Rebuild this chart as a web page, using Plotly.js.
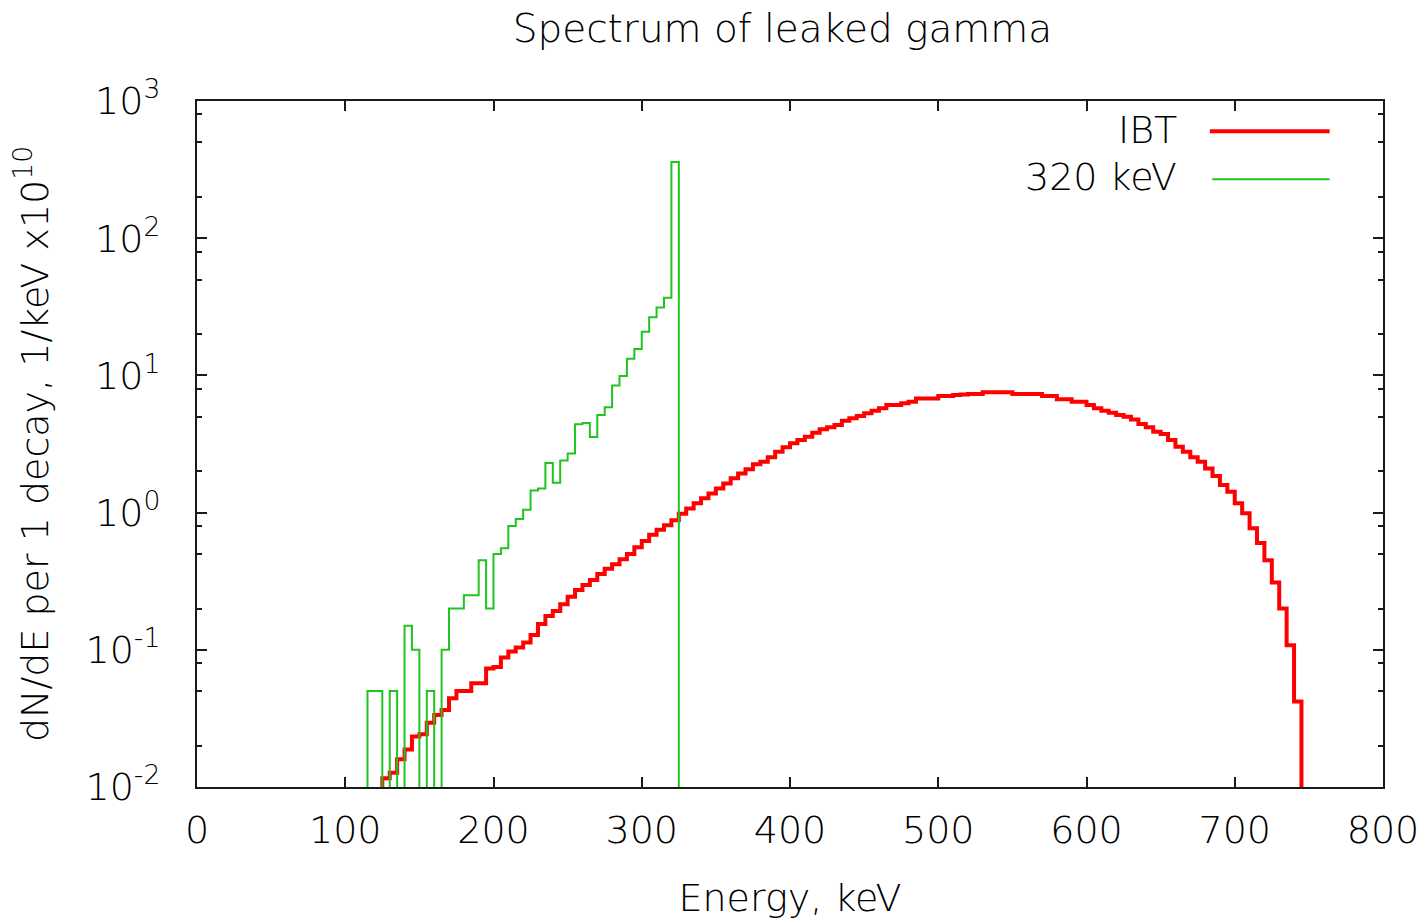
<!DOCTYPE html>
<html>
<head>
<meta charset="utf-8">
<script src="https://cdn.plot.ly/plotly-3.0.1.min.js"></script>
<style>
  html, body { margin: 0; padding: 0; background: #ffffff; }
  #chart { width: 1426px; height: 920px; }
</style>
</head>
<body>
<div id="chart"></div>
<script>
// ---- data (5 keV bins, left edges) ----
const binWidth = 5;

const ibtEdges = [
  125,130,135,140,145,150,155,160,165,170,175,180,185,190,195,200,205,210,215,220,
  225,230,235,240,245,250,255,260,265,270,275,280,285,290,295,300,305,310,315,320,
  325,330,335,340,345,350,355,360,365,370,375,380,385,390,395,400,405,410,415,420,
  425,430,435,440,445,450,455,460,465,470,475,480,485,490,495,500,505,510,515,520,
  525,530,535,540,545,550,555,560,565,570,575,580,585,590,595,600,605,610,615,620,
  625,630,635,640,645,650,655,660,665,670,675,680,685,690,695,700,705,710,715,720,
  725,730,735,740
];
const ibtValues = [
  0.0116,0.0127,0.0159,0.0188,0.0233,0.0242,0.0294,0.0335,0.0364,0.0443,0.050,0.050,0.057,0.057,0.073,0.075,0.088,0.097,0.104,0.113,
  0.128,0.154,0.176,0.192,0.215,0.244,0.273,0.297,0.323,0.357,0.39,0.42,0.457,0.50,0.56,0.62,0.69,0.75,0.81,0.88,
  0.98,1.07,1.17,1.27,1.38,1.50,1.63,1.78,1.93,2.07,2.25,2.35,2.53,2.78,2.99,3.2,3.38,3.57,3.82,4.05,
  4.19,4.35,4.68,4.87,5.06,5.29,5.53,5.76,6.09,6.09,6.26,6.43,6.8,6.8,6.8,7.08,7.08,7.2,7.25,7.32,
  7.32,7.54,7.54,7.54,7.54,7.33,7.33,7.33,7.33,7.08,7.08,6.7,6.7,6.43,6.43,6.09,5.76,5.53,5.35,5.14,
  5.0,4.78,4.42,4.19,3.89,3.74,3.38,3.02,2.78,2.53,2.35,2.1,1.85,1.59,1.42,1.17,0.99,0.77,0.60,0.45,
  0.31,0.20,0.108,0.042
];

const gammaEdges = [
  115,120,125,130,135,140,145,150,155,160,165,170,175,180,185,190,195,200,205,210,
  215,220,225,230,235,240,245,250,255,260,265,270,275,280,285,290,295,300,305,310,
  315,320
];
const gammaValues = [
  0.05,0.05,0,0.05,0,0.15,0.1,0,0.05,0,0.1,0.2,0.2,0.25,0.25,0.45,0.2,0.5,0.55,0.8,
  0.9,1.05,1.45,1.5,2.3,1.65,2.4,2.7,4.4,4.5,3.55,5.15,5.85,8.45,9.9,13.2,15.6,20.8,26.5,31.3,
  36.8,359
];

const seriesNames = ['IBT', '320 keV'];
const xTickVals = [0, 100, 200, 300, 400, 500, 600, 700, 800];
const yTickVals = [0.01, 0.1, 1, 10, 100, 1000];
const yTickText = ['10<sup>-2</sup>', '10<sup>-1</sup>', '10<sup>0</sup>', '10<sup>1</sup>', '10<sup>2</sup>', '10<sup>3</sup>'];
const yMinorVals = [0.02,0.05,0.08,0.2,0.5,0.8,2,5,8,20,50,80,200,500,800];

// ---- build histogram step outlines (empty bins drop below the axis) ----
function stepLine(edges, values, width) {
  const floor = 1e-4;
  const xs = [edges[0]];
  const ys = [floor];
  for (let i = 0; i < edges.length; i++) {
    xs.push(edges[i]);
    ys.push(values[i] > 0 ? values[i] : floor);
  }
  xs.push(edges[edges.length - 1] + width);
  ys.push(floor);
  return { xs, ys };
}

const ibt = stepLine(ibtEdges, ibtValues, binWidth);
const gam = stepLine(gammaEdges, gammaValues, binWidth);

const FONT = 'DejaVu Sans, Verdana, sans-serif';
const W = 300;
const TXT = '#000000';
const AX = '#1a1a1a';
const RED = '#ff0000';
const GREEN = '#1fc41f';

const traces = [
  { x: ibt.xs, y: ibt.ys, type: 'scatter', mode: 'lines', name: seriesNames[0],
    line: { color: RED, width: 4, shape: 'hv', simplify: false }, hoverinfo: 'x+y' },
  { x: gam.xs, y: gam.ys, type: 'scatter', mode: 'lines', name: seriesNames[1],
    line: { color: GREEN, width: 2, shape: 'hv', simplify: false }, hoverinfo: 'x+y' }
];

const axisCommon = {
  showgrid: false, zeroline: false, showline: true, linecolor: AX, linewidth: 2,
  mirror: 'allticks', ticks: 'inside', tickcolor: AX, tickwidth: 2, ticklen: 10,
  tickfont: { family: FONT, size: 38, color: TXT, weight: W }
};

const layout = {
  width: 1426, height: 920,
  paper_bgcolor: '#ffffff', plot_bgcolor: '#ffffff',
  margin: { l: 197, r: 43, t: 101, b: 133 },
  showlegend: false,
  font: { family: FONT, color: TXT, weight: W },
  title: { text: 'Spectrum of leaked gamma', font: { family: FONT, size: 39, color: TXT, weight: W },
           xref: 'container', x: 0.5487, xanchor: 'center', yref: 'container', y: 0.969, yanchor: 'middle' },
  xaxis: Object.assign({}, axisCommon, {
    range: [0, 800], tickmode: 'array', tickvals: xTickVals,
    ticklabelstandoff: 8,
    title: { text: 'Energy, keV', font: { family: FONT, size: 38, color: TXT, weight: W }, standoff: 34 }
  }),
  yaxis: Object.assign({}, axisCommon, {
    type: 'log', range: [-2, 3], tickmode: 'array', tickvals: yTickVals, ticktext: yTickText,
    ticklabelstandoff: 27,
    minor: { tickmode: 'array', tickvals: yMinorVals, ticks: 'inside', ticklen: 5, tickwidth: 2, tickcolor: AX, showgrid: false },
    title: { text: 'dN/dE per 1 decay, 1/keV x10<sup>10</sup>', font: { family: FONT, size: 38, color: TXT, weight: W }, standoff: 25 }
  }),
  annotations: [
    { xref: 'paper', yref: 'paper', x: 0.828, y: 0.9577, xanchor: 'right', yanchor: 'middle',
      text: seriesNames[0], showarrow: false, font: { family: FONT, size: 38, color: TXT, weight: W } },
    { xref: 'paper', yref: 'paper', x: 0.828, y: 0.889, xanchor: 'right', yanchor: 'middle',
      text: seriesNames[1], showarrow: false, font: { family: FONT, size: 38, color: TXT, weight: W } }
  ],
  shapes: [
    { type: 'line', xref: 'paper', yref: 'paper', x0: 0.854, x1: 0.955, y0: 0.956, y1: 0.956,
      line: { color: RED, width: 4 } },
    { type: 'line', xref: 'paper', yref: 'paper', x0: 0.856, x1: 0.955, y0: 0.886, y1: 0.886,
      line: { color: GREEN, width: 2 } }
  ]
};

Plotly.newPlot('chart', traces, layout, { displayModeBar: false, staticPlot: false });
</script>
</body>
</html>
